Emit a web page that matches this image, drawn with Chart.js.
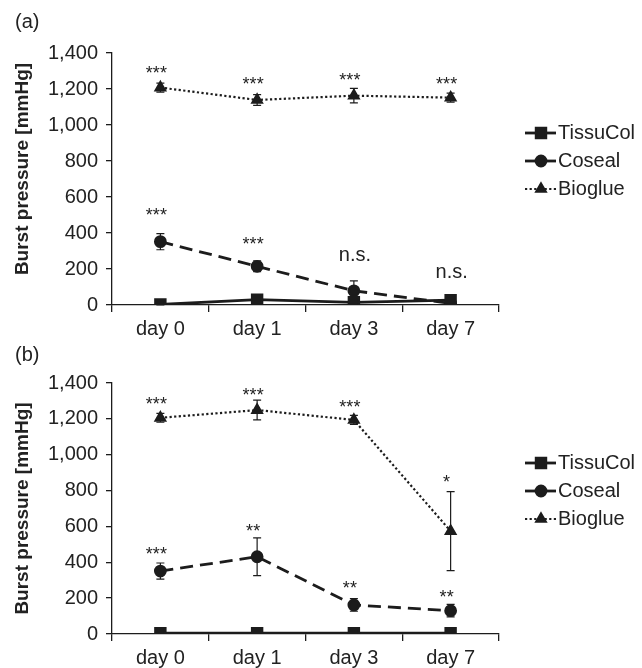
<!DOCTYPE html>
<html>
<head>
<meta charset="utf-8">
<script src="https://cdn.jsdelivr.net/npm/chart.js@4.4.1/dist/chart.umd.min.js"></script>
<style>
  body { margin: 0; background: #fff; }
  #wrap { position: relative; width: 642px; height: 668px; }
  #chartA { position: absolute; left: 0; top: 0; }
  #chartB { position: absolute; left: 0; top: 334px; }
</style>
</head>
<body>
<div id="wrap">
  <canvas id="chartA" width="642" height="345" style="width:642px;height:345px"></canvas>
  <canvas id="chartB" width="642" height="334" style="width:642px;height:334px"></canvas>
</div>
<script>
// categories and tick labels
const days = ['day 0', 'day 1', 'day 3', 'day 7'];
const yTicks = [0, 200, 400, 600, 800, 1000, 1200, 1400];

// panel (a)
const tissuA = [3, 30, 15, 27];
const tissuErrA = [2, 6, 5, 5];
const cosealA = [352, 215, 79, 9];
const cosealErrA = [45, 30, 55, 5];
const biogA = [1208, 1139, 1163, 1152];
const biogErrA = [25, 30, 40, 25];
const biogMarkA = ['***', '***', '***', '***'];
const cosealMarkA = ['***', '***', 'n.s.', 'n.s.'];

// panel (b)
const tissuB = [5, 5, 5, 5];
const tissuErrB = [2, 2, 2, 2];
const cosealB = [351, 431, 162, 130];
const cosealErrB = [45, 105, 35, 35];
const biogB = [1206, 1249, 1194, 574];
const biogErrB = [25, 55, 25, 220];
const biogMarkB = ['***', '***', '***', '*'];
const cosealMarkB = ['***', '**', '**', '**'];

const INK = '#1c1c1c';
const FONT = "'Liberation Sans', Arial, sans-serif";
Chart.defaults.font.family = FONT;
Chart.defaults.color = '#222';

// error bars under the markers
const errorBars = {
  id: 'errorBars',
  beforeDatasetsDraw(chart) {
    const { ctx, scales: { x, y } } = chart;
    ctx.save();
    ctx.strokeStyle = INK;
    ctx.lineWidth = 1.2;
    ctx.setLineDash([]);
    chart.data.datasets.forEach(ds => {
      ds.data.forEach((v, i) => {
        const e = ds.errors[i];
        if (!e) return;
        const px = x.getPixelForValue(i);
        const top = y.getPixelForValue(v + e);
        const bot = y.getPixelForValue(Math.max(0, v - e));
        ctx.beginPath();
        ctx.moveTo(px, top); ctx.lineTo(px, bot);
        ctx.moveTo(px - 4, top); ctx.lineTo(px + 4, top);
        ctx.moveTo(px - 4, bot); ctx.lineTo(px + 4, bot);
        ctx.stroke();
      });
    });
    ctx.restore();
  }
};

// significance marks, legend, y title and panel letter
const decorations = {
  id: 'decorations',
  afterDraw(chart, args, opts) {
    const { ctx, chartArea, scales: { x, y } } = chart;
    ctx.save();
    ctx.fillStyle = '#222';
    ctx.textAlign = 'center';
    ctx.textBaseline = 'alphabetic';
    chart.data.datasets.forEach(ds => {
      if (!ds.marks) return;
      ds.marks.forEach((m, i) => {
        const star = m.indexOf('*') >= 0;
        ctx.font = (star ? '18px ' : '20px ') + FONT;
        const top = y.getPixelForValue(ds.data[i] + ds.errors[i]);
        ctx.fillText(m, x.getPixelForValue(i) + (star ? -4 : 1), top - ds.markGaps[i]);
      });
    });

    // legend
    ctx.textAlign = 'left';
    ctx.textBaseline = 'middle';
    ctx.font = '20px ' + FONT;
    chart.data.datasets.forEach((ds, i) => {
      const ly = chartArea.top + 80 + i * 28;
      const x0 = 525, x1 = 556, xc = 541;
      ctx.strokeStyle = INK;
      ctx.lineWidth = ds.borderWidth;
      ctx.setLineDash(ds.legendDash);
      ctx.beginPath(); ctx.moveTo(x0, ly); ctx.lineTo(xc - 4, ly); ctx.stroke();
      ctx.beginPath(); ctx.moveTo(x1, ly); ctx.lineTo(xc + 4, ly); ctx.stroke();
      ctx.setLineDash([]);
      ctx.fillStyle = INK;
      Chart.helpers.drawPoint(ctx, { pointStyle: ds.pointStyle, radius: ds.pointRadius, rotation: 0, borderWidth: 1 }, xc, ly);
      ctx.fillStyle = '#222';
      ctx.fillText(ds.label, 558, ly);
    });

    // y axis title
    ctx.save();
    ctx.translate(23, (chartArea.top + chartArea.bottom) / 2 + opts.titleShift);
    ctx.rotate(-Math.PI / 2);
    ctx.textAlign = 'center';
    ctx.font = 'bold 19px ' + FONT;
    ctx.fillText('Burst pressure [mmHg]', 0, 0);
    ctx.restore();

    // panel letter
    ctx.textAlign = 'left';
    ctx.font = '20px ' + FONT;
    ctx.fillText(opts.panel, 15, opts.panelY);
    ctx.restore();
  }
};

function makeChart(id, d) {
  return new Chart(document.getElementById(id), {
    type: 'line',
    data: {
      labels: days,
      datasets: [
        { label: 'TissuCol', data: d.tissu, errors: d.tissuErr, borderColor: INK, backgroundColor: INK,
          borderWidth: 2.8, pointStyle: 'rect', pointRadius: 6.8, legendDash: [] },
        { label: 'Coseal', data: d.coseal, errors: d.cosealErr, marks: d.cosealMark, markGaps: d.cosealGaps,
          borderColor: INK, backgroundColor: INK, borderWidth: 2.8, borderDash: [13, 7],
          pointStyle: 'circle', pointRadius: 5, legendDash: [] },
        { label: 'Bioglue', data: d.biog, errors: d.biogErr, marks: d.biogMark, markGaps: d.biogGaps,
          borderColor: INK, backgroundColor: INK, borderWidth: 2.2, borderDash: [2.2, 2.4],
          pointStyle: 'triangle', pointRadius: 5.5, legendDash: [2.2, 2.4] }
      ]
    },
    options: {
      responsive: false,
      animation: false,
      events: [],
      layout: { padding: { top: d.padTop, right: 143, left: 0, bottom: 0 } },
      elements: { line: { tension: 0 }, point: { borderWidth: 1 } },
      plugins: {
        legend: { display: false },
        tooltip: { enabled: false },
        decorations: { panel: d.panel, panelY: d.panelY, titleShift: d.titleShift }
      },
      scales: {
        x: {
          type: 'category',
          offset: true,
          afterFit(s) { s.height = d.xH; },
          grid: { offset: true, drawOnChartArea: false, tickLength: 7, color: INK, lineWidth: 1.3 },
          border: { color: INK, width: 1.3 },
          ticks: { font: { size: 20 }, color: '#222', padding: 5 }
        },
        y: {
          min: 0, max: 1400,
          afterFit(s) { s.width = 112; },
          afterBuildTicks(s) { s.ticks = yTicks.map(v => ({ value: v })); },
          grid: { drawOnChartArea: false, tickLength: 6, color: INK, lineWidth: 1.3 },
          border: { color: INK, width: 1.3 },
          ticks: { font: { size: 20 }, color: '#222', padding: 8,
                   callback: v => v.toLocaleString('en-US') }
        }
      }
    },
    plugins: [errorBars, decorations]
  });
}

makeChart('chartA', {
  tissu: tissuA, tissuErr: tissuErrA, coseal: cosealA, cosealErr: cosealErrA,
  biog: biogA, biogErr: biogErrA, biogMark: biogMarkA, cosealMark: cosealMarkA,
  biogGaps: [4, 5, 2, 3], cosealGaps: [13, 11, 20, 24],
  padTop: 53, xH: 40, panel: '(a)', panelY: 22, titleShift: -10
});
makeChart('chartB', {
  tissu: tissuB, tissuErr: tissuErrB, coseal: cosealB, cosealErr: cosealErrB,
  biog: biogB, biogErr: biogErrB, biogMark: biogMarkB, cosealMark: cosealMarkB,
  biogGaps: [3, -1, 2, 4], cosealGaps: [3, 1, 5, 1],
  padTop: 49, xH: 34, panel: '(b)', panelY: 21, titleShift: 0
});
</script>
</body>
</html>
